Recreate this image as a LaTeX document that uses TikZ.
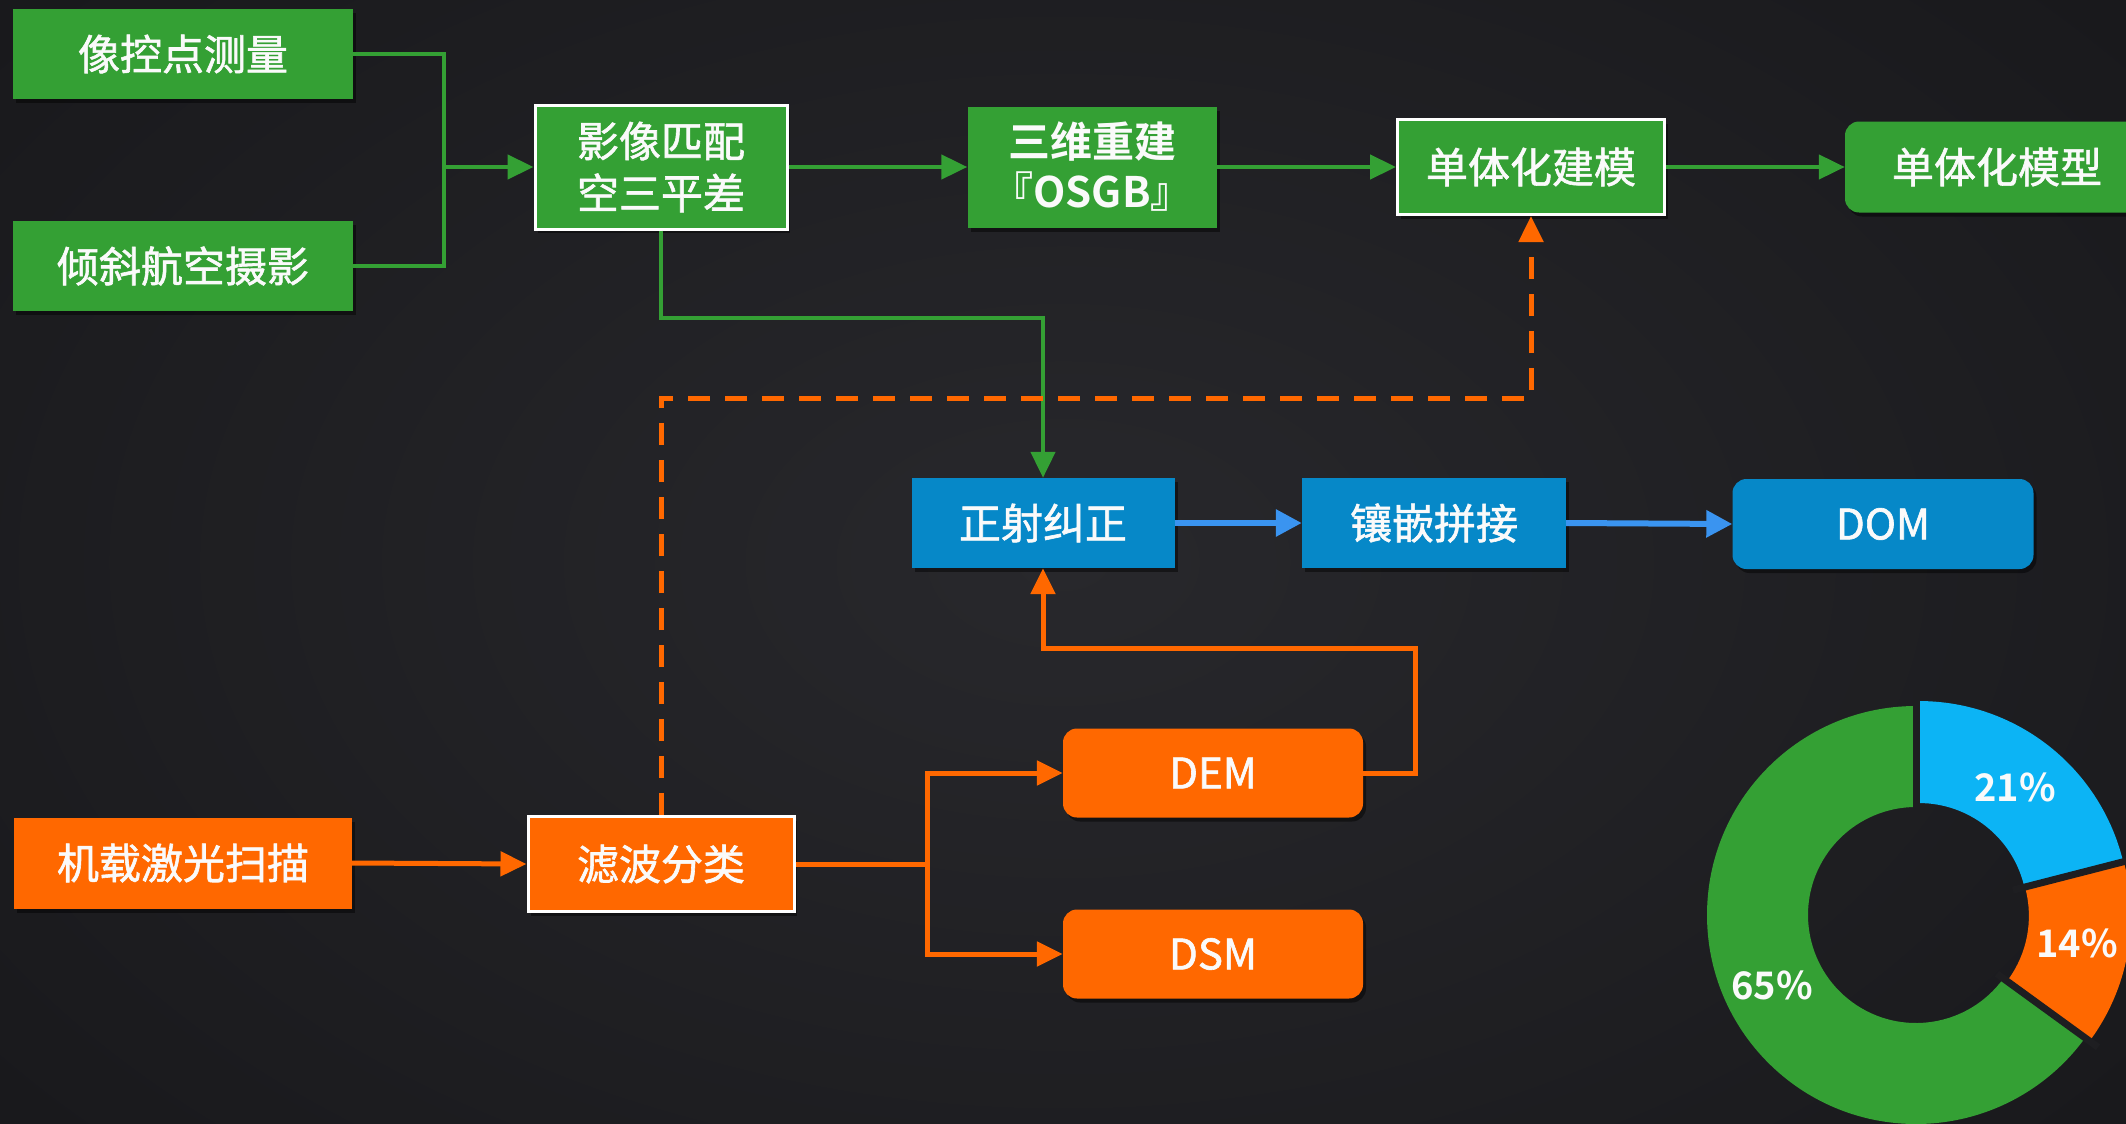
\documentclass[tikz,border=0pt]{standalone}
\usepackage{fontspec}
\setmainfont{Noto Sans CJK SC}[FakeBold=1.4]
\newfontfamily\boldcjk{Noto Sans CJK SC Bold}
\usetikzlibrary{arrows.meta,shadows}
\definecolor{bgin}{RGB}{40,40,44}
\definecolor{bgout}{RGB}{25,25,28}
\definecolor{bgmid}{RGB}{30,30,33}
\definecolor{gr}{RGB}{52,160,52}
\definecolor{bl}{RGB}{6,136,200}
\definecolor{blA}{RGB}{58,148,240}
\definecolor{og}{RGB}{255,104,0}
\definecolor{pieblue}{RGB}{12,180,245}
\definecolor{txt}{RGB}{250,250,250}
\tikzset{
  box/.style={minimum width=#1, inner sep=0pt, text=txt, align=center,
    drop shadow={shadow xshift=3pt, shadow yshift=-4pt, opacity=0.45, fill=black}},
  gbox/.style={box=#1, fill=gr},
  bbox/.style={box=#1, fill=bl},
  obox/.style={box=#1, fill=og},
  wborder/.style={draw=white, line width=3pt},
  rbox/.style={rounded corners=14pt},
  gline/.style={draw=gr, line width=4.5pt},
  garrow/.style={gline, -{Triangle[length=26pt,width=24pt]}},
  oline/.style={draw=og, line width=5pt},
  oarrow/.style={oline, -{Triangle[length=26pt,width=24pt]}},
  odash/.style={draw=og, line width=5pt, dash pattern=on 22pt off 15pt, -{Triangle[length=26pt,width=24pt]}},
  barrow/.style={draw=blA, line width=6pt, -{Triangle[length=26pt,width=26pt]}},
  pct/.style={text=txt, font=\fontsize{38}{40}\selectfont\boldcjk},
  gap/.style={draw=bgmid, line width=7pt}
}
\begin{document}
\begin{tikzpicture}[x=1pt,y=-1pt, font=\fontsize{42}{52}\selectfont]
\useasboundingbox (0,0) rectangle (2126,1124);
\clip (0,0) rectangle (2126,1124);
\shade[inner color=bgin, outer color=bgout] (-300,-300) rectangle (2426,1424);

% green row
\node[gbox=340, minimum height=90] (n1) at (183,54) {像控点测量};
\node[gbox=340, minimum height=90] (n2) at (183,266) {倾斜航空摄影};
\node[gbox=252, minimum height=124, wborder] (n3) at (661,167) {影像匹配\\空三平差};
\node[gbox=249, minimum height=121, font=\fontsize{42}{50}\selectfont\boldcjk] (n4) at (1092,167) {三维重建\\『OSGB』};
\node[gbox=267, minimum height=95, wborder] (n5) at (1531,167) {单体化建模};
\node[gbox=304, minimum height=91, rbox] (n6) at (1997,167) {单体化模型};

% blue row
\node[bbox=263, minimum height=90] (n7) at (1043,523) {正射纠正};
\node[bbox=264, minimum height=90] (n8) at (1434,523) {镶嵌拼接};
\node[bbox=301, minimum height=90, rbox] (n9) at (1883,524) {DOM};

% orange row
\node[obox=338, minimum height=91] (n10) at (183,863) {机载激光扫描};
\node[obox=266, minimum height=95, wborder] (n11) at (661,864) {滤波分类};
\node[obox=300, minimum height=89, rbox] (n12) at (1213,773) {DEM};
\node[obox=300, minimum height=89, rbox] (n13) at (1213,954) {DSM};

% green connectors
\coordinate (j1) at (444,167);
\draw[gline] (n1.east) -| (j1);
\draw[gline] (n2.east) -| (j1);
\draw[garrow] (j1) -- (n3.west);
\draw[garrow] (n3.east) -- (n4.west);
\draw[garrow] (n4.east) -- (n5.west);
\draw[garrow] (n5.east) -- (n6.west);
\coordinate (g1) at (661,318);
\draw[garrow] (n3.south) -- (g1) -| (n7.north);

% blue connectors
\draw[barrow] (n7.east) -- (n8.west);
\draw[barrow] (n8.east) -- (n9.west);

% orange connectors
\draw[oarrow] (n10.east) -- (n11.west);
\coordinate (o1) at (927,864);
\draw[oline] (n11.east) -- (o1);
\draw[oarrow] (o1) |- (n12.west);
\draw[oarrow] (o1) |- (n13.west);
\coordinate (o2) at (1415,648);
\draw[oarrow] (n12.east) -| (o2) -| (n7.south);
\coordinate (d1) at (661,398);
\draw[odash] (n11.north) -- (d1) -| (n5.south);

% donut (explicit pt units: standard math orientation)
\begin{scope}[shift={(1916,915)}]
  \fill[gr] (-36:108pt) arc[start angle=-36, end angle=-270, radius=108pt]
     -- (-270:209pt) arc[start angle=-270, end angle=-36, radius=209pt] -- cycle;
\end{scope}
\begin{scope}[shift={(1916,915)}, shift={(52.2:5pt)}]
  \fill[pieblue] (90:108pt) arc[start angle=90, end angle=14.4, radius=108pt]
     -- (14.4:210pt) arc[start angle=14.4, end angle=90, radius=210pt] -- cycle;
\end{scope}
\begin{scope}[shift={(1916,915)}, shift={(-10.8:5pt)}]
  \fill[og] (14.4:108pt) arc[start angle=14.4, end angle=-36, radius=108pt]
     -- (-36:210pt) arc[start angle=-36, end angle=14.4, radius=210pt] -- cycle;
\end{scope}
\begin{scope}[shift={(1916,915)}]
  \draw[gap] (90:100pt) -- (90:225pt);
  \draw[gap] (14.4:100pt) -- (14.4:225pt);
  \draw[gap] (-36:100pt) -- (-36:225pt);
\end{scope}
\node[pct] (p1) at (2015,787) {21\%};
\node[pct] (p2) at (2077,943) {14\%};
\node[pct] (p3) at (1772,985) {65\%};
\end{tikzpicture}
\end{document}
